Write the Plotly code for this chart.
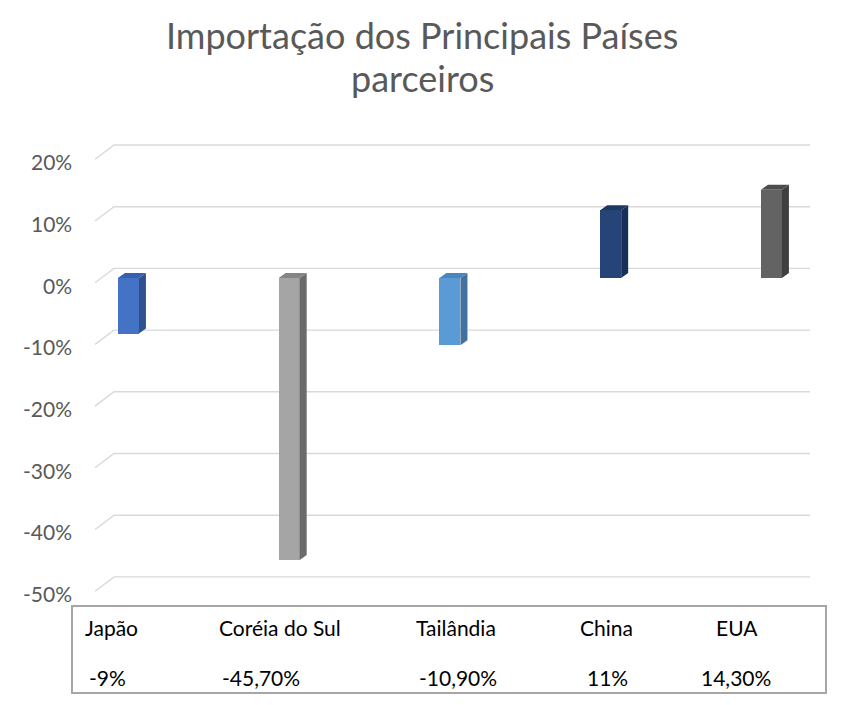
import plotly.graph_objects as go

# ---- data ----
categories = ["Japão", "Coréia do Sul", "Tailândia", "China", "EUA"]
values = [-0.09, -0.457, -0.109, 0.11, 0.143]
value_labels = ["-9%", "-45,70%", "-10,90%", "11%", "14,30%"]
tick_values = [0.2, 0.1, 0.0, -0.1, -0.2, -0.3, -0.4, -0.5]
tick_labels = ["20%", "10%", "0%", "-10%", "-20%", "-30%", "-40%", "-50%"]

# ---- styles ----
front_colors = ["#4472C4", "#A5A5A5", "#5B9BD5", "#264478", "#636363"]
side_colors = ["#2F528F", "#6B6B6B", "#41719C", "#1A2F55", "#3F3F3F"]
top_colors = ["#3561AE", "#858585", "#4A86BE", "#1F3864", "#4D4D4D"]
FONT = "Lato"
TXT = "#595959"

OFF = 8  # page body margin: figure is drawn at (8, 8) in the page
W, H = 845, 705
# reference pixel layout (page coordinates)
PL, PR, PT, PB = 95, 810, 140, 600
L = PL - OFF
T = PT - OFF
R = W - (PR - OFF)
B = H - (PB - OFF)
plot_w = PR - PL
plot_h = PB - PT
x_range = [-0.208, 4.24]
px_x = plot_w / (x_range[1] - x_range[0])
px_y = 617.0
zero_px = 278
y_range = [-(PB - zero_px) / px_y, (zero_px - PT) / px_y]

bar_w = 21 / px_x
dx = 7 / px_x
dy = 5 / px_y

def paper_x(px):
    return (px - PL) / plot_w

def paper_y(py):
    return (PB - py) / plot_h

xs = list(range(len(categories)))

fig = go.Figure()
fig.add_trace(go.Bar(
    x=xs, y=values, width=bar_w,
    marker=dict(color=front_colors, line=dict(width=0)),
    hoverinfo="skip", showlegend=False,
))

shapes = []
# gridlines (3D perspective)
for v in tick_values:
    yf = v - 4.7 / px_y
    yb = v + 9.6 / px_y
    shapes.append(dict(
        type="path", xref="paper", yref="y",
        path=f"M {paper_x(95)},{yf} L {paper_x(114)},{yb} L {paper_x(810)},{yb}",
        line=dict(color="#D9D9D9", width=1.4), layer="below",
    ))

# 3D side and top faces computed from values
for x, v, sc, tc in zip(xs, values, side_colors, top_colors):
    xr = x + bar_w / 2
    xl = x - bar_w / 2
    shapes.append(dict(
        type="path", xref="x", yref="y",
        path=f"M {xr},0 L {xr+dx},{dy} L {xr+dx},{v+dy} L {xr},{v} Z",
        fillcolor=sc, line=dict(width=0), layer="above",
    ))
    top = max(v, 0)
    shapes.append(dict(
        type="path", xref="x", yref="y",
        path=f"M {xl},{top} L {xl+dx},{top+dy} L {xr+dx},{top+dy} L {xr},{top} Z",
        fillcolor=tc, line=dict(width=0), layer="above",
    ))

# data table box
shapes.append(dict(
    type="rect", xref="paper", yref="paper",
    x0=paper_x(72), x1=paper_x(826), y0=paper_y(606), y1=paper_y(693),
    line=dict(color="#A6A6A6", width=2), fillcolor="rgba(0,0,0,0)",
))

annotations = []
for v, lab in zip(tick_values, tick_labels):
    annotations.append(dict(
        x=0, xref="paper", y=v - 7 / px_y, yref="y",
        text=lab, showarrow=False, xanchor="right", yanchor="middle",
        xshift=-21, font=dict(family=FONT, size=21, color=TXT),
    ))

cat_px = [83, 217, 414, 578, 714]
val_px = [87, 220, 417, 585, 699]
for c, vl, cx, vx in zip(categories, value_labels, cat_px, val_px):
    annotations.append(dict(
        x=paper_x(cx), xref="paper", y=paper_y(627), yref="paper",
        text=c, showarrow=False, xanchor="left", yanchor="middle",
        font=dict(family=FONT, size=21, color="#000000"),
    ))
    annotations.append(dict(
        x=paper_x(vx), xref="paper", y=paper_y(677), yref="paper",
        text=vl, showarrow=False, xanchor="left", yanchor="middle",
        font=dict(family=FONT, size=21, color="#000000"),
    ))

for line, ly in (("Importação dos Principais Países", 35), ("parceiros", 78)):
    annotations.append(dict(
        x=paper_x(422), xref="paper", y=paper_y(ly), yref="paper",
        text=line, showarrow=False, xanchor="center", yanchor="middle",
        font=dict(family=FONT, size=36, color=TXT),
    ))

fig.update_layout(
    width=W, height=H,
    margin=dict(l=L, r=R, t=T, b=B),
    paper_bgcolor="white", plot_bgcolor="white",
    xaxis=dict(range=x_range, visible=False, fixedrange=True),
    yaxis=dict(range=y_range, showgrid=False, zeroline=False,
               showticklabels=False, fixedrange=True),
    shapes=shapes, annotations=annotations,
    bargap=0,
)

fig.write_html("out.html")
